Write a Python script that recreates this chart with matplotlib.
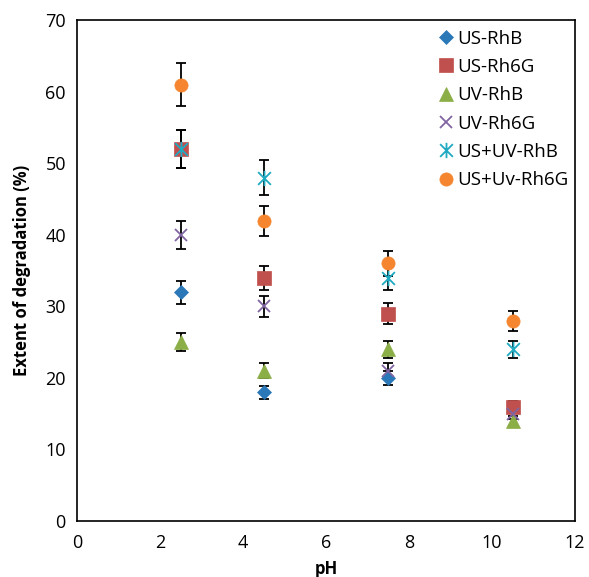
import matplotlib
matplotlib.use('Agg')
import matplotlib.pyplot as plt
from matplotlib.path import Path

plt.rcParams['font.family'] = ['Open Sans', 'DejaVu Sans']

nan = float('nan')

# pH values and degradation extents (%) for each process
ph = [2.5, 4.5, 7.5, 10.5]
us_rhb = [32, 18, 20, nan]
us_rh6g = [52, 34, 29, 16]
uv_rhb = [25, 21, 24, 14]
uv_rh6g = [40, 30, 21, 15]
usuv_rhb = [52, 48, 34, 24]
usuv_rh6g = [61, 42, 36, 28]
err_frac = 0.05  # 5 % error bars

labels = ['US-RhB', 'US-Rh6G', 'UV-RhB', 'UV-Rh6G', 'US+UV-RhB', 'US+Uv-Rh6G']
series = [us_rhb, us_rh6g, uv_rhb, uv_rh6g, usuv_rhb, usuv_rh6g]
colors = ['#2A78B8', '#C0504D', '#8BAE46', '#8064A2', '#1FAAC2', '#F5862F']

# asterisk marker: x with a vertical stroke
star = Path([(-1, -1), (1, 1), (-1, 1), (1, -1), (0, -1.2), (0, 1.2)],
            [Path.MOVETO, Path.LINETO, Path.MOVETO, Path.LINETO, Path.MOVETO, Path.LINETO])
markers = ['D', 's', '^', 'x', star, 'o']
sizes = [7.5, 9.5, 9.5, 9, 11, 9.5]
line_markers = [False, False, False, True, True, False]

fig = plt.figure(figsize=(5.89, 5.77), dpi=100)
ax = fig.add_axes([0.1307, 0.097, 0.8455, 0.868])

for ys in series:
    ax.errorbar(ph, ys, yerr=[v * err_frac for v in ys], fmt='none',
                ecolor='black', elinewidth=1.3, capsize=3.5, capthick=1.3, zorder=2)

for ys, lab, c, m, ms, thin in zip(series, labels, colors, markers, sizes, line_markers):
    ax.plot(ph, ys, linestyle='none', marker=m, markersize=ms, color=c,
            markeredgecolor=c, markeredgewidth=1.3 if thin else 0.5,
            label=lab, zorder=3)

ax.set_xlim(0, 12)
ax.set_ylim(0, 70)
ax.set_xticks(range(0, 13, 2))
ax.set_yticks(range(0, 71, 10))
ax.tick_params(length=0, labelsize=13)
ax.tick_params(axis='x', pad=9)
ax.tick_params(axis='y', pad=8)
for s in ax.spines.values():
    s.set_linewidth(1.2)

ax.set_xlabel('pH', fontsize=12, fontweight='bold', labelpad=6)
ax.set_ylabel('Extent of degradation (%)', fontsize=12, fontweight='bold', labelpad=10)

ax.legend(loc='upper right', bbox_to_anchor=(1.005, 1.0), frameon=False, fontsize=13.5,
          handletextpad=0.05, handlelength=1.1, labelspacing=0.55, borderaxespad=0.1)

fig.savefig('out.png', dpi=100)
